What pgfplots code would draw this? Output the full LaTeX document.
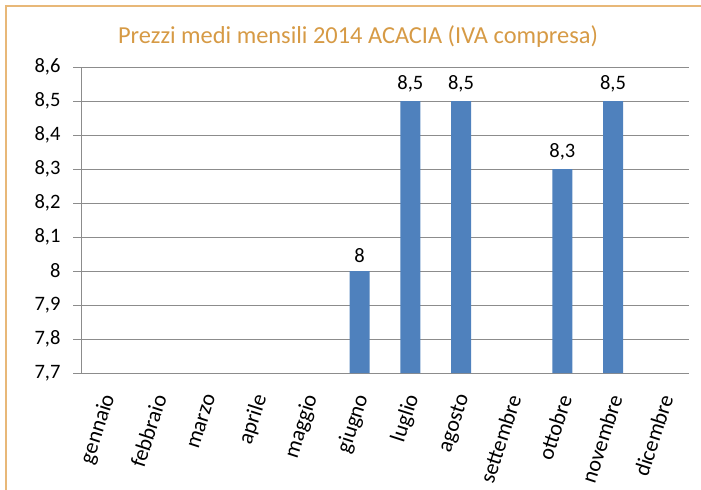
\documentclass[border=0pt]{standalone}
\usepackage{pgfplots}
\pgfplotsset{compat=1.18}
\usepackage{fontspec}
\setmainfont{Carlito}
\definecolor{barblue}{HTML}{4F81BD}
\definecolor{titleor}{HTML}{D69A45}
\definecolor{frameor}{HTML}{E8B878}
\definecolor{gridgr}{HTML}{8C8C8C}
\begin{document}
\begin{tikzpicture}
\path[use as bounding box] (0bp,0bp) rectangle (701bp,490bp);
\draw[frameor, line width=2bp] (6bp,0bp) -- (6bp,484bp) -- (701bp,484bp);
\node[text=titleor, font=\fontsize{24.4bp}{28bp}\selectfont, anchor=base] at (358bp,446bp) {Prezzi medi mensili 2014 ACACIA (IVA compresa)};
\begin{axis}[
  at={(81bp,117bp)}, anchor=south west,
  scale only axis,
  width=608bp, height=306bp,
  ybar, bar width=20bp,
  xmin=-0.5, xmax=11.5,
  ymin=7.7, ymax=8.6,
  ytick={7.7,7.8,...,8.61},
  xtick={0,...,11},
  xticklabels={gennaio,febbraio,marzo,aprile,maggio,giugno,luglio,agosto,settembre,ottobre,novembre,dicembre},
  minor xtick={-0.5,0.5,...,11.5},
  axis x line*=bottom, axis y line*=left,
  axis line style={gridgr, line width=0.8bp},
  xtick style={draw=none},
  ytick style={gridgr, line width=0.8bp},
  major tick length=8bp,
  minor tick length=6bp,
  minor x tick style={gridgr, line width=0.8bp},
  tick align=outside,
  y tick label style={font=\fontsize{20.5bp}{24bp}\selectfont, xshift=-9bp},
  x tick label style={font=\fontsize{22bp}{25bp}\selectfont, xshift=4bp, yshift=-11bp, rotate=72, anchor=east},
  ymajorgrids=true,
  grid style={gridgr, line width=0.8bp},
  /pgf/number format/assume math mode=true,
  yticklabel={\pgfmathprintnumber[fixed,precision=1,use comma]{\tick}},
  nodes near coords={\pgfmathprintnumber[use comma]{\pgfplotspointmeta}},
  every node near coord/.append style={font=\fontsize{20.5bp}{24bp}\selectfont, black, yshift=5bp},
  clip=false
]
\addplot[fill=barblue, draw=none] coordinates {(5,8) (6,8.5) (7,8.5) (9,8.3) (10,8.5)};
\end{axis}
\end{tikzpicture}
\end{document}
